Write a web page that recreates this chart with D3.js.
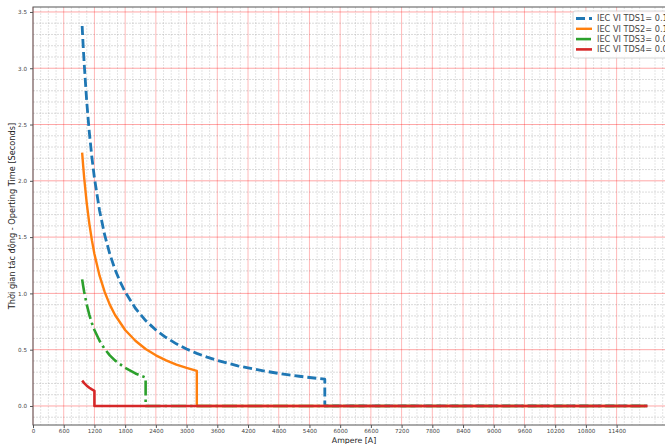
<!DOCTYPE html>
<html>
<head>
<meta charset="utf-8">
<script src="https://cdn.jsdelivr.net/npm/d3@7"></script>
<style>
    body{margin:0;background:#fff;overflow:hidden;}
    svg{display:block;font-family:'DejaVu Sans',sans-serif;}
</style>
</head>
<body>
<div id="graphWrapper"></div>
<script>
//data
const SERIES_LABELS = ['IEC VI TDS1= 0.15','IEC VI TDS2= 0.1','IEC VI TDS3= 0.05','IEC VI TDS4= 0.01'];

const TDS1_CURRENT = [960,980,1000,1050,1100,1150,1200,1300,1400,1500,1600,1700,1800,2000,2200,2400,2600,2800,3000,3200,3400,3600,3800,4000,4200,4500,4800,5000,5200,5400,5700,5700,12000];
const TDS1_TIME    = [3.375,3.197,3.04,2.7,2.43,2.209,2.025,1.736,1.519,1.35,1.215,1.105,1.013,0.868,0.759,0.675,0.608,0.552,0.506,0.467,0.434,0.405,0.38,0.357,0.338,0.312,0.289,0.276,0.264,0.253,0.238,0,0];

const TDS2_CURRENT = [960,980,1000,1050,1100,1150,1200,1300,1400,1500,1600,1800,2000,2200,2400,2600,2800,3000,3200,3200,12000];
const TDS2_TIME    = [2.25,2.132,2.025,1.8,1.62,1.473,1.35,1.157,1.013,0.9,0.81,0.675,0.579,0.506,0.45,0.405,0.368,0.338,0.312,0,0];

const TDS3_CURRENT = [960,980,1000,1050,1100,1150,1200,1300,1400,1500,1600,1800,2000,2200,2200,12000];
const TDS3_TIME    = [1.125,1.066,1.013,0.9,0.81,0.736,0.675,0.579,0.506,0.45,0.405,0.338,0.289,0.253,0,0];

const TDS4_CURRENT = [960,1000,1050,1100,1150,1200,1200,12000];
const TDS4_TIME    = [0.225,0.203,0.18,0.162,0.147,0.135,0,0];

const X_TICKS = [0,600,1200,1800,2400,3000,3600,4200,4800,5400,6000,6600,7200,7800,8400,9000,9600,10200,10800,11400];
const Y_TICKS = [0,0.5,1,1.5,2,2.5,3,3.5];

//constants
const CONSTANTS = {
    WIDTH:665,
    HEIGHT:444,
    LEFT:33,      //left edge of the axes
    RIGHT:676,    //right edge of the axes (runs past the window, like the picture)
    TOP:7,
    BOTTOM:425,
    X_DOMAIN:[0,12560],
    Y_DOMAIN:[-0.169,3.544],
    COLORS:['#1f77b4','#ff7f0e','#2ca02c','#d62728'],
    DASHES:['9,4',null,'15,4,2.5,4',null],
    WIDTHS:[2.8,2.4,2.6,2.6]
};

function main(){
    let svg = d3.select('#graphWrapper')
        .append('svg')
        .attr('width',CONSTANTS.WIDTH)
        .attr('height',CONSTANTS.HEIGHT);

    let scales = buildScales();
    buildGrid(svg,scales);
    buildLines(svg,scales);
    buildAxis(svg,scales);
    buildLegend(svg);
}

function buildScales(){
    let x = d3.scaleLinear().domain(CONSTANTS.X_DOMAIN).range([CONSTANTS.LEFT,CONSTANTS.RIGHT]);
    let y = d3.scaleLinear().domain(CONSTANTS.Y_DOMAIN).range([CONSTANTS.BOTTOM,CONSTANTS.TOP]);
    return {x:x,y:y};
}

//minor gray grid, major red grid
function buildGrid(svg,scales){
    let g = svg.append('g').attr('class','grid');
    let xMinor = d3.range(0,12560,150).filter(v=>v % 600 != 0);
    let yMinor = d3.range(-1,36).map(v=>v/10).filter(v=>Math.round(v*10) % 5 != 0);

    g.selectAll('.vminor').data(xMinor).enter().append('line')
        .attr('x1',d=>scales.x(d)).attr('x2',d=>scales.x(d))
        .attr('y1',CONSTANTS.TOP).attr('y2',CONSTANTS.BOTTOM)
        .attr('stroke','#aaa').attr('stroke-opacity',0.4).attr('stroke-width',0.8)
        .attr('stroke-dasharray','2,1');
    g.selectAll('.hminor').data(yMinor).enter().append('line')
        .attr('x1',CONSTANTS.LEFT).attr('x2',CONSTANTS.RIGHT)
        .attr('y1',d=>scales.y(d)).attr('y2',d=>scales.y(d))
        .attr('stroke','#999').attr('stroke-opacity',0.45).attr('stroke-width',0.8)
        .attr('stroke-dasharray','2,1');

    g.selectAll('.vmajor').data(X_TICKS).enter().append('line')
        .attr('x1',d=>scales.x(d)).attr('x2',d=>scales.x(d))
        .attr('y1',CONSTANTS.TOP).attr('y2',CONSTANTS.BOTTOM)
        .attr('stroke','#f00').attr('stroke-opacity',0.28).attr('stroke-width',1);
    g.selectAll('.hmajor').data(Y_TICKS).enter().append('line')
        .attr('x1',CONSTANTS.LEFT).attr('x2',CONSTANTS.RIGHT)
        .attr('y1',d=>scales.y(d)).attr('y2',d=>scales.y(d))
        .attr('stroke','#f00').attr('stroke-opacity',0.35).attr('stroke-width',1);
}

function buildLines(svg,scales){
    let series = [
        {c:TDS1_CURRENT,t:TDS1_TIME},
        {c:TDS2_CURRENT,t:TDS2_TIME},
        {c:TDS3_CURRENT,t:TDS3_TIME},
        {c:TDS4_CURRENT,t:TDS4_TIME}
    ];
    let line = d3.line().x(d=>scales.x(d[0])).y(d=>scales.y(d[1]));

    series.forEach((s,i)=>{
        let pts = s.c.map((v,j)=>[v,s.t[j]]);
        svg.append('path')
            .datum(pts)
            .attr('d',line)
            .attr('fill','none')
            .attr('stroke',CONSTANTS.COLORS[i])
            .attr('stroke-width',CONSTANTS.WIDTHS[i])
            .attr('stroke-dasharray',CONSTANTS.DASHES[i])
            .attr('stroke-linejoin','round');
    });
}

function buildAxis(svg,scales){
    //frame
    svg.append('rect')
        .attr('x',CONSTANTS.LEFT).attr('y',CONSTANTS.TOP)
        .attr('width',CONSTANTS.RIGHT-CONSTANTS.LEFT).attr('height',CONSTANTS.BOTTOM-CONSTANTS.TOP)
        .attr('fill','none').attr('stroke','#555').attr('stroke-width',1);

    let xAxis = d3.axisBottom(scales.x).tickValues(X_TICKS).tickSize(3).tickPadding(1).tickFormat(d3.format('d'));
    let yAxis = d3.axisLeft(scales.y).tickValues(Y_TICKS).tickSize(3).tickPadding(3).tickFormat(d3.format('.1f'));

    let gx = svg.append('g')
        .attr('id','x-axis')
        .attr('transform','translate(0,'+CONSTANTS.BOTTOM+')')
        .call(xAxis);
    let gy = svg.append('g')
        .attr('id','y-axis')
        .attr('transform','translate('+CONSTANTS.LEFT+',0)')
        .call(yAxis);

    [gx,gy].forEach(g=>{
        g.select('.domain').remove();
        g.selectAll('line').attr('stroke','#555');
        g.selectAll('text').attr('fill','#444').style('font-size','5.6px').style('font-family','DejaVu Sans');
    });

    svg.append('text')
        .text('Ampere [A]')
        .attr('x',354).attr('y',443)
        .attr('text-anchor','middle')
        .attr('fill','#222')
        .style('font-size','7.8px');

    svg.append('text')
        .text('Thời gian tác động - Operting Time [Seconds]')
        .attr('transform','translate(15,'+((CONSTANTS.TOP+CONSTANTS.BOTTOM)/2)+') rotate(-90)')
        .attr('text-anchor','middle')
        .attr('fill','#222')
        .style('font-size','8.2px');
}

function buildLegend(svg){
    let g = svg.append('g').attr('id','legend').attr('transform','translate(573,11)');
    g.append('rect')
        .attr('width',112).attr('height',47).attr('rx',2)
        .attr('fill','#fff').attr('fill-opacity',0.85)
        .attr('stroke','#ccc').attr('stroke-width',0.8);

    SERIES_LABELS.forEach((label,i)=>{
        let yPos = 7.5 + i*10.3;
        g.append('line')
            .attr('x1',3).attr('x2',19)
            .attr('y1',yPos).attr('y2',yPos)
            .attr('stroke',CONSTANTS.COLORS[i])
            .attr('stroke-width',CONSTANTS.WIDTHS[i])
            .attr('stroke-dasharray',CONSTANTS.DASHES[i]);
        g.append('text')
            .text(label)
            .attr('x',24).attr('y',yPos+2.8)
            .attr('fill','#444')
            .style('font-size','8.2px');
    });
}

main();
</script>
</body>
</html>
